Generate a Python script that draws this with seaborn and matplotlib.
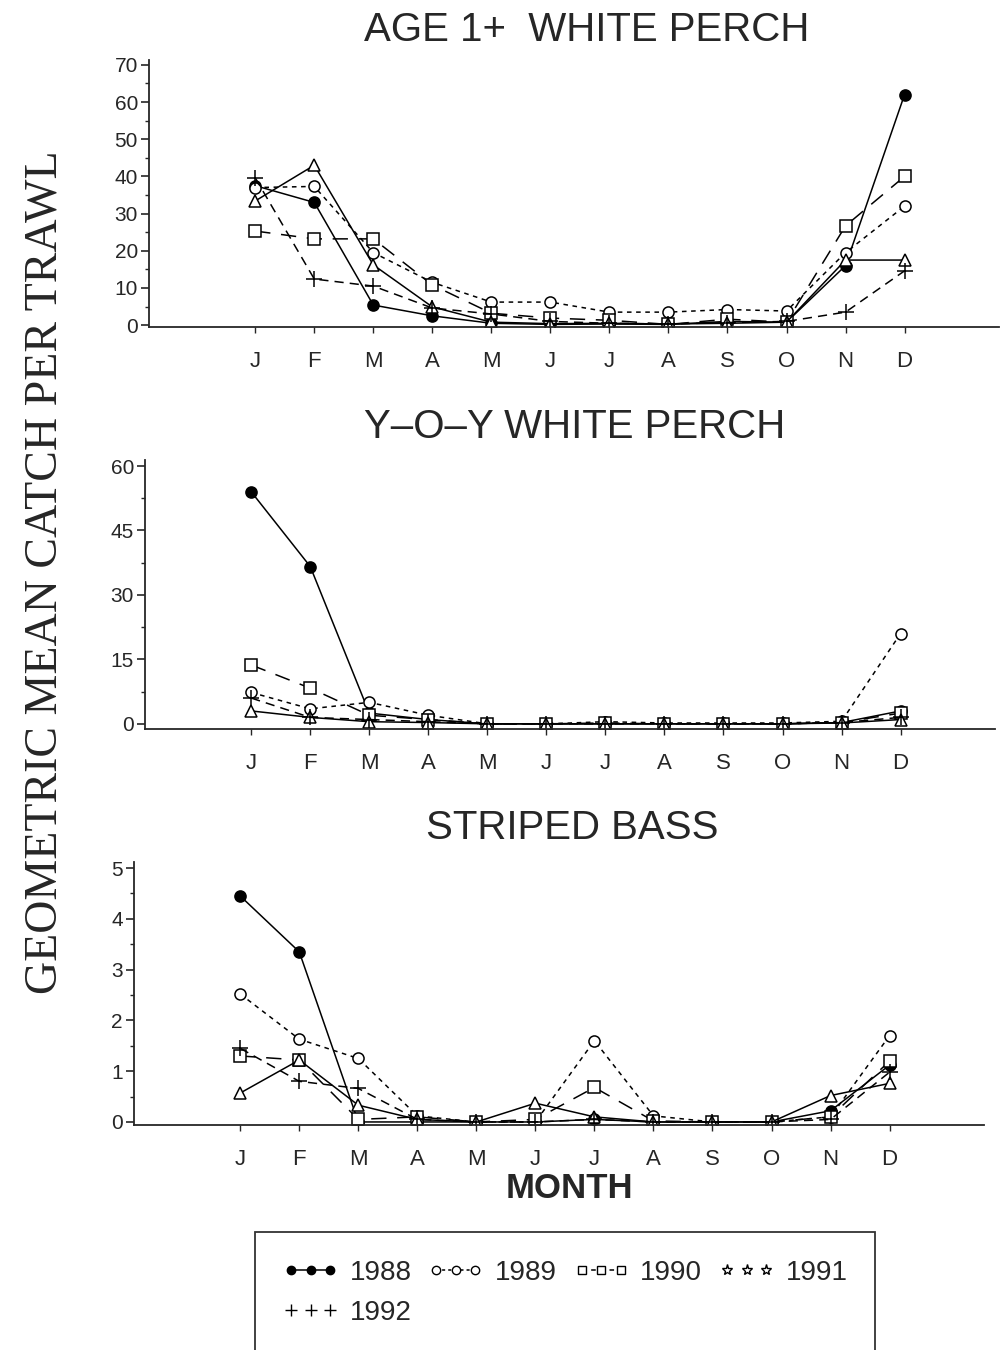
import numpy as np
import pandas as pd
import matplotlib
matplotlib.use("Agg")
import matplotlib.pyplot as plt
from matplotlib.lines import Line2D
import seaborn as sns

# ---------------- data ----------------
months = ['J', 'F', 'M', 'A', 'M', 'J', 'J', 'A', 'S', 'O', 'N', 'D']
years = ['1988', '1989', '1990', '1991', '1992']

age1_1988 = [37.5, 33.0, 5.4, 2.5, 0.5, 0.2, 0.3, 0.2, 1.0, 0.8, 16.0, 62.0]
age1_1989 = [37.0, 37.3, 19.5, 11.5, 6.2, 6.2, 3.5, 3.5, 4.2, 3.8, 19.5, 32.0]
age1_1990 = [25.3, 23.2, 23.2, 10.8, 3.2, 1.9, 1.3, 0.2, 1.6, 0.8, 26.7, 40.0]
age1_1991 = [33.4, 43.0, 16.2, 4.9, 0.8, 0.4, 0.5, 0.3, 0.5, 0.8, 17.5, 17.5]
age1_1992 = [39.6, 12.4, 10.5, 4.6, 3.0, 1.0, 0.5, 0.3, 0.7, 1.0, 3.5, 14.6]

yoy_1988 = [54.0, 36.6, 2.5, 1.0, 0.0, 0.0, 0.0, 0.0, 0.0, 0.0, 0.3, 3.0]
yoy_1989 = [7.3, 3.5, 5.0, 2.0, 0.0, 0.0, 0.5, 0.2, 0.2, 0.2, 0.6, 21.0]
yoy_1990 = [13.7, 8.3, 2.0, 1.0, 0.0, 0.0, 0.2, 0.0, 0.0, 0.0, 0.3, 2.5]
yoy_1991 = [3.0, 1.5, 0.5, 0.3, 0.0, 0.0, 0.0, 0.0, 0.0, 0.0, 0.2, 1.0]
yoy_1992 = [6.0, 1.5, 1.0, 0.5, 0.0, 0.0, 0.0, 0.0, 0.0, 0.0, 0.3, 1.5]

sb_1988 = [4.45, 3.35, 0.0, 0.0, 0.0, 0.0, 0.05, 0.0, 0.0, 0.0, 0.22, 1.12]
sb_1989 = [2.52, 1.63, 1.25, 0.12, 0.0, 0.0, 1.6, 0.12, 0.0, 0.0, 0.1, 1.7]
sb_1990 = [1.3, 1.22, 0.05, 0.1, 0.0, 0.05, 0.68, 0.02, 0.0, 0.0, 0.1, 1.2]
sb_1991 = [0.57, 1.22, 0.33, 0.05, 0.0, 0.37, 0.1, 0.0, 0.0, 0.0, 0.52, 0.76]
sb_1992 = [1.45, 0.8, 0.66, 0.05, 0.0, 0.0, 0.05, 0.0, 0.0, 0.0, 0.05, 0.98]

titles = ['AGE 1+  WHITE PERCH', 'Y\u2013O\u2013Y WHITE PERCH', 'STRIPED BASS']
panel_data = [
    [age1_1988, age1_1989, age1_1990, age1_1991, age1_1992],
    [yoy_1988, yoy_1989, yoy_1990, yoy_1991, yoy_1992],
    [sb_1988, sb_1989, sb_1990, sb_1991, sb_1992],
]
yticks_list = [[0, 10, 20, 30, 40, 50, 60, 70], [0, 15, 30, 45, 60], [0, 1, 2, 3, 4, 5]]
yminor_list = [5, 7.5, 0.5]

# ---------------- style ----------------
sns.set_style("ticks")
plt.rcParams['font.family'] = ['Liberation Sans', 'DejaVu Sans']

styles = {
    '1988': dict(marker='o', markerfacecolor='black', linestyle='-', markersize=8),
    '1989': dict(marker='o', markerfacecolor='white', linestyle=(0, (3, 3)), markersize=8),
    '1990': dict(marker='s', markerfacecolor='white', linestyle=(0, (10, 7)), markersize=8),
    '1991': dict(marker='^', markerfacecolor='white', linestyle='-', markersize=8),
    '1992': dict(marker='+', markerfacecolor='black', linestyle=(0, (6, 4)), markersize=11),
}

fig = plt.figure(figsize=(10.07, 13.5), dpi=100)
W, H = 1007, 1350

# axes rectangles in pixels: left, top, bottom, ylim
rects = [(149, 60, 327, (-0.5, 71.3)), (145, 460, 729, (-1.2, 61.4)), (134, 862, 1125, (-0.06, 5.12))]
title_pos = [(587, 30), (575, 427), (572, 828)]
xlim = (-0.8, 13.6)
axw = 850

axes = []
for i, (left, top, bottom, ylim) in enumerate(rects):
    ax = fig.add_axes([left / W, 1 - bottom / H, axw / W, (bottom - top) / H])
    axes.append(ax)
    for yr, vals in zip(years, panel_data[i]):
        df = pd.DataFrame({'month': np.arange(1, 13), 'catch': vals})
        st = styles[yr]
        sns.lineplot(data=df, x='month', y='catch', ax=ax, color='black',
                     linewidth=1.1, markeredgecolor='black', markeredgewidth=1.1,
                     legend=False, **st)
    ax.set_xlim(*xlim)
    ax.set_ylim(*ylim)
    ax.set_xticks(np.arange(1, 13))
    ax.set_xticklabels(months, fontsize=16)
    ax.set_yticks(yticks_list[i])
    ax.set_yticklabels([str(t) for t in yticks_list[i]], fontsize=15)
    ax.yaxis.set_minor_locator(matplotlib.ticker.MultipleLocator(yminor_list[i]))
    ax.tick_params(axis='x', direction='out', length=4, width=1, pad=13)
    ax.tick_params(axis='y', which='major', direction='out', length=6, width=1.2, pad=2)
    ax.tick_params(axis='y', which='minor', direction='out', length=3, width=1)
    ax.set_xlabel('')
    ax.set_ylabel('')
    for s in ['top', 'right']:
        ax.spines[s].set_visible(False)
    for s in ['left', 'bottom']:
        ax.spines[s].set_linewidth(1.3)
    tx, ty = title_pos[i]
    fig.text(tx / W, 1 - ty / H, titles[i], ha='center', va='center', fontsize=29)

fig.text(45 / W, 1 - 572 / H, 'GEOMETRIC MEAN CATCH PER TRAWL', rotation=90,
         ha='center', va='center', fontsize=33, family=['Liberation Serif', 'DejaVu Serif'])
fig.text(569 / W, 1 - 1188 / H, 'MONTH', ha='center', va='center', fontsize=25,
         fontweight='bold')

# legend (row-major order: 1988 1989 1990 1991 / 1992)
leg_styles = {
    '1988': dict(marker='o', markerfacecolor='black', linestyle='-', markersize=6),
    '1989': dict(marker='o', markerfacecolor='white', linestyle=(0, (2, 2)), markersize=6),
    '1990': dict(marker='s', markerfacecolor='white', linestyle=(0, (3, 3)), markersize=6),
    '1991': dict(marker='*', markerfacecolor='white', linestyle='none', markersize=8),
    '1992': dict(marker='+', markerfacecolor='black', linestyle='none', markersize=8),
}
order = ['1988', '1992', '1989', '1990', '1991']
handles = [Line2D([], [], color='black', linewidth=1.1, markeredgecolor='black',
                  **leg_styles[yr]) for yr in order]
leg = fig.legend(handles, order, loc='upper left', bbox_to_anchor=(255 / W, 1 - 1232 / H),
                 ncol=4, numpoints=3, handlelength=2.0, handletextpad=0.4,
                 columnspacing=0.6, frameon=True, fancybox=False, edgecolor='black',
                 prop={'size': 20}, borderpad=1.0,
                 labelspacing=0.5, borderaxespad=0)
leg.get_frame().set_linewidth(1.3)

fig.savefig('out.png', dpi=100)
